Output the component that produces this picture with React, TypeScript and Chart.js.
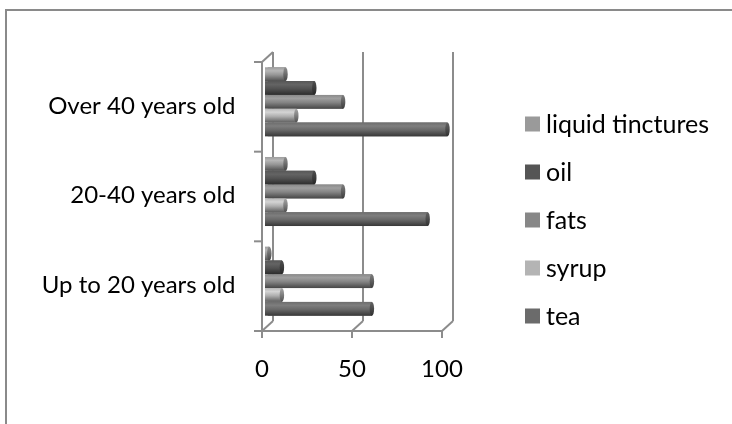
import { useEffect, useRef } from 'react';
import { Chart, registerables } from 'chart.js';

Chart.register(...registerables);

// Age groups, listed top to bottom
const categories = ['Over 40 years old', '20-40 years old', 'Up to 20 years old'];

// Series values per age group
const liquidTinctures = [10, 10, 1];
const oil = [26, 26, 8];
const fats = [42, 42, 58];
const syrup = [16, 10, 8];
const tea = [100, 89, 58];

const seriesNames = ['liquid tinctures', 'oil', 'fats', 'syrup', 'tea'];
const seriesValues = [liquidTinctures, oil, fats, syrup, tea];
const seriesColors = ['#9a9a9a', '#555555', '#878787', '#b4b4b4', '#6b6b6b'];

const xTicks = [0, 50, 100];

const FONT = 'Lato';
const FONT_SIZE = 24;
const LEGEND_FONT_SIZE = 25;
const LINE_COLOR = '#8c8c8c';
// half of the depth of the 3D box (mid plane -> front / back plane)
const DX = 5.5;
const DY = 5;

function shade(hex: string, f: number): string {
  const n = parseInt(hex.slice(1), 16);
  const ch = (v: number) => Math.max(0, Math.min(255, Math.round(v * f)));
  return `rgb(${ch((n >> 16) & 255)},${ch((n >> 8) & 255)},${ch(n & 255)})`;
}

const box3dPlugin = {
  id: 'box3d',
  beforeDraw(chart: any) {
    const { ctx } = chart;
    ctx.save();
    ctx.strokeStyle = '#8a8a8a';
    ctx.lineWidth = 2;
    ctx.beginPath();
    ctx.moveTo(6, chart.height + 2);
    ctx.lineTo(6, 10);
    ctx.lineTo(chart.width + 2, 10);
    ctx.stroke();
    ctx.restore();
  },
  beforeDatasetsDraw(chart: any) {
    const { ctx, chartArea: ca } = chart;
    const xs = chart.scales.x;
    const ys = chart.scales.y;
    const fx = (v: number) => xs.getPixelForValue(v) - DX;
    const bx = (v: number) => xs.getPixelForValue(v) + DX;
    const top = ca.top;
    const bot = ca.bottom;
    ctx.save();
    ctx.strokeStyle = LINE_COLOR;
    ctx.lineWidth = 2;
    const line = (x1: number, y1: number, x2: number, y2: number) => {
      ctx.beginPath();
      ctx.moveTo(x1, y1);
      ctx.lineTo(x2, y2);
      ctx.stroke();
    };
    xTicks.forEach((v) => {
      line(bx(v), top - DY, bx(v), bot - DY); // back wall gridline
      line(fx(v), bot + DY, bx(v), bot - DY); // floor edge
      line(fx(v), bot + DY, fx(v), bot + DY + 7); // tick mark
    });
    const x0 = fx(xTicks[0]);
    line(x0 - 8, bot + DY, fx(xTicks[xTicks.length - 1]), bot + DY);
    line(x0, top + DY, x0, bot + DY);
    line(x0, top + DY, bx(xTicks[0]), top - DY);
    const band = ys.getPixelForValue(1) - ys.getPixelForValue(0);
    for (let i = 0; i < categories.length; i++) {
      const yb = ys.getPixelForValue(i) - band / 2 + DY;
      line(x0 - 8, yb, x0, yb);
    }
    ctx.restore();
  },
  afterDatasetsDraw(chart: any) {
    const { ctx } = chart;
    ctx.save();
    chart.data.datasets.forEach((_ds: any, di: number) => {
      const meta = chart.getDatasetMeta(di);
      const c = seriesColors[di];
      meta.data.forEach((bar: any) => {
        const { x, y, base, height } = bar.getProps(['x', 'y', 'base', 'height'], true);
        const h = height;
        const t = y - h / 2;
        // cylinder body, lit from above
        const g = ctx.createLinearGradient(0, t, 0, t + h);
        g.addColorStop(0, shade(c, 1.02));
        g.addColorStop(0.25, shade(c, 1.18));
        g.addColorStop(0.55, shade(c, 0.97));
        g.addColorStop(1, shade(c, 0.52));
        ctx.fillStyle = g;
        ctx.fillRect(base - 2.5, t, x - base + 2.5, h);
        // rounded end cap
        const rx = Math.max(1.5, h * 0.16);
        const gc = ctx.createLinearGradient(0, t, 0, t + h);
        gc.addColorStop(0, shade(c, 0.92));
        gc.addColorStop(0.4, shade(c, 0.75));
        gc.addColorStop(1, shade(c, 0.45));
        ctx.fillStyle = gc;
        ctx.beginPath();
        ctx.ellipse(x, y, rx, h / 2, 0, 0, Math.PI * 2);
        ctx.fill();
      });
    });
    ctx.restore();
  },
  afterDraw(chart: any) {
    const { ctx } = chart;
    ctx.save();
    ctx.font = `${LEGEND_FONT_SIZE}px ${FONT}`;
    ctx.textBaseline = 'alphabetic';
    ctx.textAlign = 'left';
    chart.data.datasets.forEach((ds: any, i: number) => {
      const cy = 124 + i * 48;
      ctx.fillStyle = seriesColors[i];
      ctx.fillRect(525, cy - 7.5, 15, 15);
      ctx.fillStyle = '#000';
      ctx.fillText(ds.label, 546, cy + 8.5);
    });
    ctx.restore();
  },
};

export default function App() {
  const canvasRef = useRef<HTMLCanvasElement | null>(null);

  useEffect(() => {
    document.body.style.margin = '0';
    const canvas = canvasRef.current;
    if (!canvas) return;
    const chart = new Chart(canvas, {
      type: 'bar',
      data: {
        labels: categories,
        datasets: seriesNames.map((name, i) => ({
          label: name,
          data: seriesValues[i],
          backgroundColor: seriesColors[i],
          borderWidth: 0,
          categoryPercentage: 0.77,
          barPercentage: 1,
        })),
      },
      options: {
        indexAxis: 'y',
        animation: false,
        responsive: false,
        maintainAspectRatio: false,
        devicePixelRatio: 1,
        layout: { padding: { left: 0, right: 284.5, top: 57, bottom: 0 } },
        plugins: { legend: { display: false }, tooltip: { enabled: false } },
        scales: {
          x: {
            min: 0,
            max: 100,
            grid: { display: false, drawTicks: false },
            border: { display: false },
            ticks: {
              stepSize: 50,
              padding: 29,
              labelOffset: -DX,
              color: '#000',
              font: { family: FONT, size: FONT_SIZE },
              maxRotation: 0,
            },
            afterFit(scale: any) {
              scale.height = 98;
            },
          },
          y: {
            grid: { display: false, drawTicks: false },
            border: { display: false },
            ticks: {
              padding: 32,
              labelOffset: 4,
              color: '#000',
              font: { family: FONT, size: FONT_SIZE },
            },
            afterFit(scale: any) {
              scale.width = 267.5;
            },
          },
        },
      },
      plugins: [box3dPlugin],
    });
    return () => chart.destroy();
  }, []);

  return (
    <div style={{ position: 'fixed', left: 0, top: 0, width: 732, height: 424, background: '#fff' }}>
      <canvas ref={canvasRef} width={732} height={424} />
    </div>
  );
}
